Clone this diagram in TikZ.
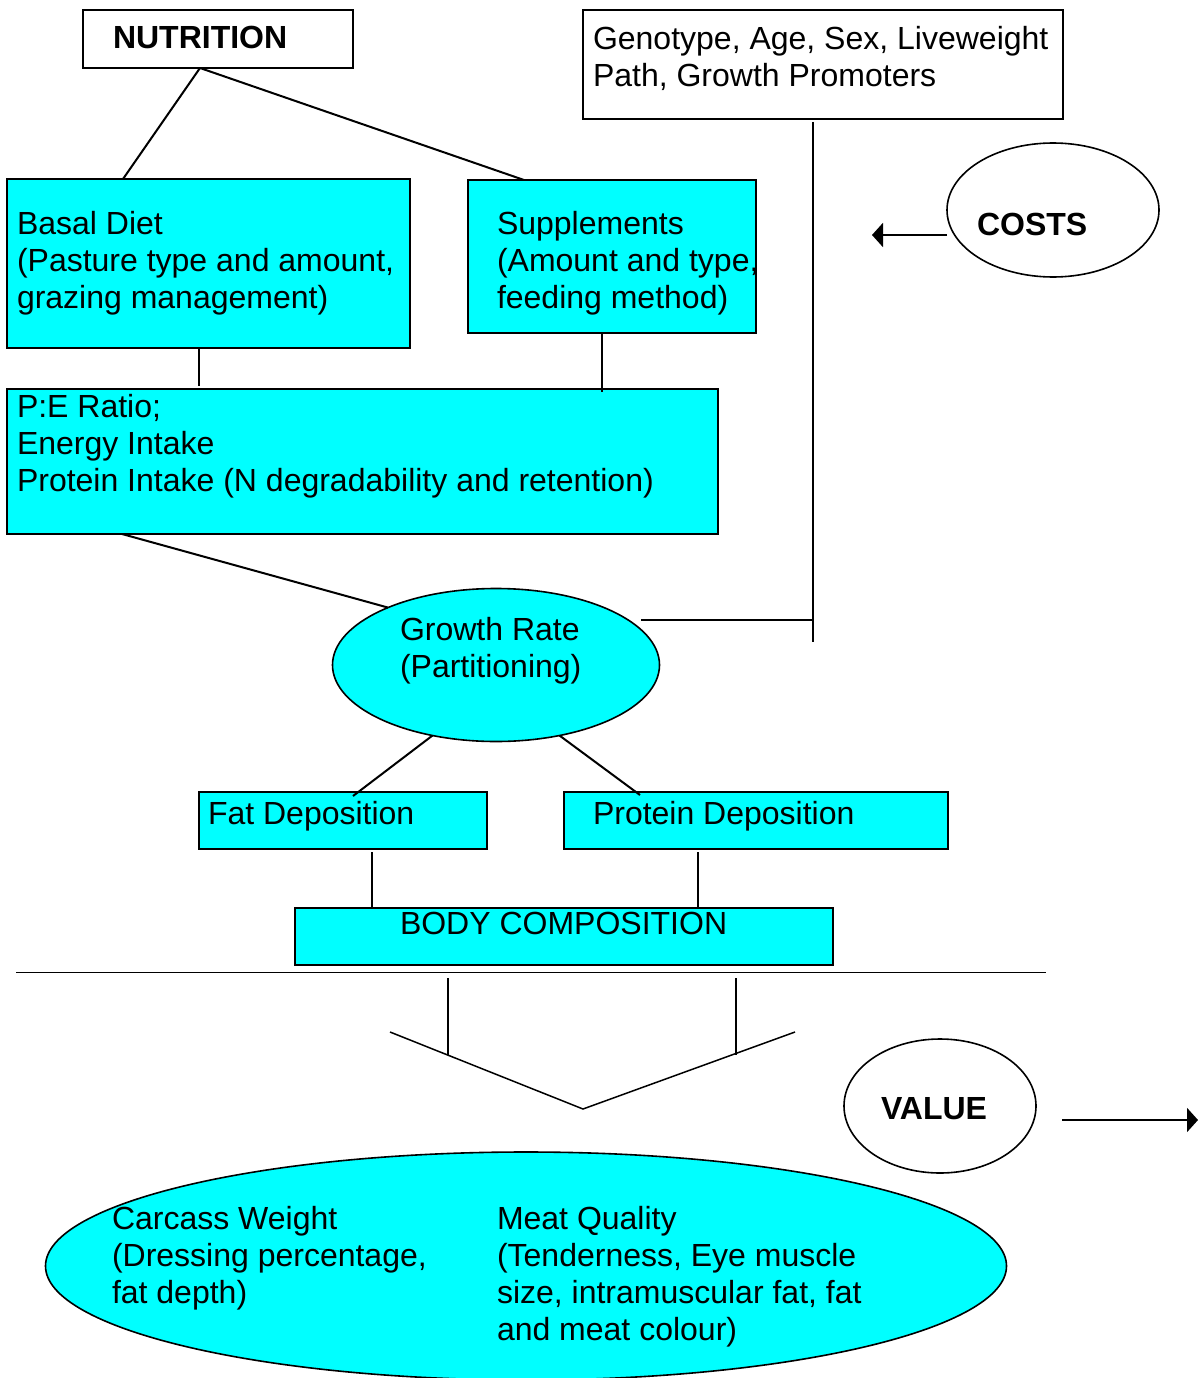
\documentclass[tikz,border=0pt]{standalone}
\usepackage{fontspec}
\setmainfont{Liberation Sans}
\usetikzlibrary{shapes.geometric,arrows.meta,calc}
\newcommand{\topstrut}{\rule{0pt}{26pt}}
\definecolor{aquafill}{RGB}{0,255,255}
\begin{document}
\begin{tikzpicture}[x=1pt,y=-1pt,
  box/.style={draw,line width=2pt,fill=aquafill,inner sep=0,outer sep=0},
  wbox/.style={draw,line width=2pt,fill=white,inner sep=0,outer sep=0},
  ell/.style={ellipse,draw,line width=1.6pt,inner sep=0,outer sep=0},
  txt/.style={anchor=north west,inner sep=0,outer sep=0,align=left,font=\fontsize{32}{37}\selectfont},
  btxt/.style={txt,font=\fontsize{32}{37}\selectfont\bfseries},
  conn/.style={line width=2pt},
  arr/.style={line width=2pt,-{Triangle[length=11pt,width=24pt]}}]
\useasboundingbox (0,0) rectangle (1203,1378);
\fill[white] (0,0) rectangle (1203,1378);

% boxes
\node[wbox,minimum width=270pt,minimum height=58pt] (nut) at (218,39) {};
\node[wbox,minimum width=480pt,minimum height=109pt] (geno) at (823,64.5) {};
\node[box,minimum width=403pt,minimum height=169pt] (basal) at (208.5,263.5) {};
\node[box,minimum width=288pt,minimum height=153pt] (supp) at (612,256.5) {};
\node[box,minimum width=711pt,minimum height=145pt] (pe) at (362.5,461.5) {};
\node[ell,fill=aquafill,minimum width=327pt,minimum height=153pt] (growth) at (496,665) {};
\node[box,minimum width=288pt,minimum height=57pt] (fat) at (343,820.5) {};
\node[box,minimum width=384pt,minimum height=57pt] (prot) at (756,820.5) {};
\node[box,minimum width=538pt,minimum height=57pt] (body) at (564,936.5) {};
\node[ell,fill=white,minimum width=212pt,minimum height=134pt] (costs) at (1053,210) {};
\node[ell,fill=white,minimum width=192pt,minimum height=134pt] (value) at (940,1106) {};
\node[ell,fill=aquafill,minimum width=961pt,minimum height=228pt] (result) at (526,1266) {};

% texts
\node[btxt] (tnut) at (113,23) {\topstrut NUTRITION};
\node[txt] (tgeno) at (593,24) {\topstrut Genotype, Age, Sex, Liveweight\\Path, Growth Promoters};
\node[txt] (tbasal) at (17,208) {\topstrut Basal Diet\\(Pasture type and amount,\\grazing management)};
\node[txt] (tsupp) at (497,208) {\topstrut Supplements\\(Amount and type,\\feeding method)};
\node[txt] (tpe) at (17,391) {\topstrut P:E Ratio;\\Energy Intake\\Protein Intake (N degradability and retention)};
\node[txt] (tgrowth) at (400,614) {\topstrut Growth Rate\\(Partitioning)};
\node[txt] (tfat) at (208,798) {\topstrut Fat Deposition};
\node[txt] (tprot) at (593,798) {\topstrut Protein Deposition};
\node[txt] (tbody) at (400,908) {\topstrut BODY COMPOSITION};
\node[btxt] (tcosts) at (977,209) {\topstrut COSTS};
\node[btxt] (tvalue) at (881,1093) {\topstrut VALUE};
\node[txt] (tcarc) at (112,1203) {\topstrut Carcass Weight\\(Dressing percentage,\\fat depth)};
\node[txt] (tmeat) at (497,1203) {\topstrut Meat Quality\\(Tenderness, Eye muscle\\size, intramuscular fat, fat\\and meat colour)};

% coordinates
\coordinate (gj) at (813,620);
\coordinate (gend) at (813,642);
\coordinate (gh) at (641,620);
\coordinate (hl1) at (16,972);
\coordinate (hl2) at (1046,972);
\coordinate (v1) at (390,1032);
\coordinate (v2) at (583,1109);
\coordinate (v3) at (795,1032);
\coordinate (ca) at (872,235);
\coordinate (va1) at (1062,1120);
\coordinate (va2) at (1198,1120);

% connectors
\draw[conn] ($(nut.south west)+(117,0)$) -- ($(basal.north west)+(116,0)$);
\draw[conn] ($(nut.south west)+(117,0)$) -- ($(supp.north west)+(56,0)$);
\draw[conn] ($(basal.south west)+(192,0)$) -- ($(pe.north west)+(192,-3)$);
\draw[conn] ($(supp.south west)+(134,0)$) -- ($(pe.north west)+(595,3)$);
\draw[conn] ($(pe.south west)+(115,0)$) -- (growth.152);
\draw[conn] ($(geno.south west)+(230,3)$) -- (gend);
\draw[conn] (gh) -- (gj);
\draw[conn] (growth.228) -- ($(fat.north west)+(154,4)$);
\draw[conn] (growth.312) -- ($(prot.north west)+(76,3)$);
\draw[conn] ($(fat.south west)+(173,3)$) -- ($(body.north west)+(77,0)$);
\draw[conn] ($(prot.south west)+(134,3)$) -- ($(body.north west)+(403,0)$);
\draw[line width=1pt] (hl1) -- (hl2);
\draw[conn] ($(body.south west)+(153,13)$) -- ++(0,77);
\draw[conn] ($(body.south west)+(441,13)$) -- ++(0,77);
\draw[line width=1.5pt] (v1) -- (v2) -- (v3);
\draw[arr] ($(costs.center)+(-106,25)$) -- (ca);
\draw[arr] (va1) -- (va2);
\end{tikzpicture}
\end{document}
